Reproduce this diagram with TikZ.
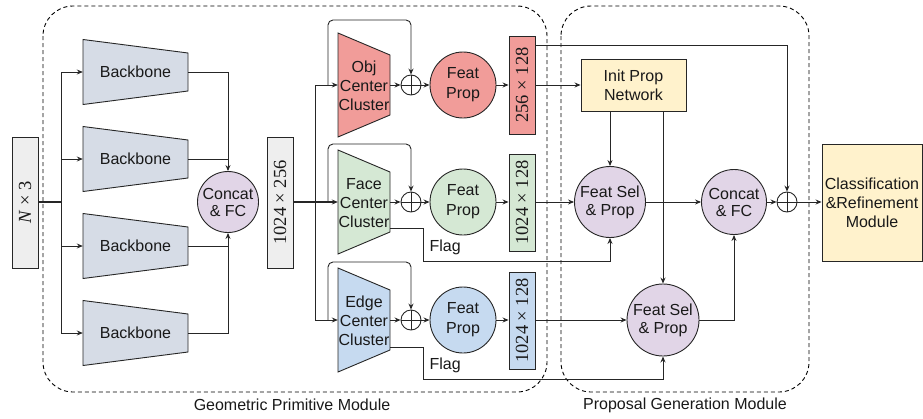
\documentclass[tikz,border=0pt]{standalone}
\usepackage{fontspec}
\setmainfont{Liberation Sans}
\newfontfamily\serifnum{Liberation Serif}
\usetikzlibrary{arrows.meta,calc}
\definecolor{cgray}{HTML}{EEEEEE}
\definecolor{cback}{HTML}{D6DCE6}
\definecolor{cpurple}{HTML}{E1D5E7}
\definecolor{cred}{HTML}{F19C99}
\definecolor{cgreen}{HTML}{D5E8D4}
\definecolor{cblue}{HTML}{C6DAF0}
\definecolor{cyellow}{HTML}{FFF2CC}
\definecolor{cline}{HTML}{262626}
\tikzset{
  every node/.style={font=\fontsize{16}{19}\selectfont, text=black!90},
  conn/.style={draw=cline, line width=0.9pt},
  arr/.style={conn, -{Stealth[length=6pt,width=5pt]}},
  circ/.style={circle, draw=cline, line width=0.9pt, inner sep=0pt, align=center},
  plus/.style={circle, draw=cline, line width=0.9pt, minimum size=20pt, inner sep=0pt},
  vbox/.style={draw=cline, line width=0.9pt, minimum width=26pt, inner sep=0pt},
  ghost/.style={inner sep=0pt, align=center},
  shape2d/.style={draw=cline, line width=0.9pt},
  modbox/.style={draw=black, line width=0.9pt, dash pattern=on 4pt off 3pt, rounded corners=30pt},
  rect/.style={draw=cline, line width=0.9pt, align=center, inner sep=0pt},
  numtxt/.style={rotate=90, font=\serifnum\fontsize{18.5}{20}\selectfont},
}
\begin{document}
\begin{tikzpicture}[x=1pt,y=-1pt]
\useasboundingbox (0,0) rectangle (923,418);
% module boxes
\draw[modbox] (43,6) rectangle (547,392);
\draw[modbox] (561,6) rectangle (809,392);
\node (gpm) at (292,405) {Geometric Primitive Module};
\node (pgm) at (685,405) {Proposal Generation Module};

% input
\node[vbox, fill=cgray, minimum height=131pt] (in) at (25,202.5) {};
\node[numtxt] at (in) {\textit{N} × 3};
\coordinate (trunk) at (61,202);

% backbones
\foreach \i/\cy in {1/72,2/159,3/246,4/333}{
  \node[ghost, minimum width=105pt, minimum height=65pt] (b\i) at (135.5,\cy) {};
  \draw[shape2d, fill=cback] (83,\cy-32.5) -- (188,\cy-19) -- (188,\cy+19) -- (83,\cy+32.5) -- cycle;
  \node at (b\i) {Backbone};
}
\draw[cline, line width=1.8pt] (in.east |- trunk) -- (trunk);
\draw[conn] (trunk |- b1.west) -- (trunk |- b4.west);
\foreach \i in {1,2,3,4}{ \draw[arr] (trunk |- b\i.west) -- (b\i.west); }

% concat 1
\node[circ, fill=cpurple, minimum size=61pt] (cat1) at (228,202) {Concat\\[-2pt]\& FC};
\draw[arr] (b1.east) -| (cat1.north);
\draw[conn] (b2.east) -- (cat1.north |- b2.east);
\draw[arr] (b3.east) -| (cat1.south);
\draw[conn] (b4.east) -| (cat1.south |- b3.east);

% 1024x256
\node[vbox, fill=cgray, minimum height=131pt] (f1) at (280,202.5) {};
\node[numtxt] at (f1) {1024 × 256};
\coordinate (tr2) at (315,202);
\draw[cline, line width=1.8pt] (f1.east |- tr2) -- (tr2);

% clusters
\foreach \n/\cy/\col/\txt/\lt in {o/85/cred/Obj/20, f/202/cgreen/Face/144, e/320/cblue/Edge/262}{
  \node[ghost, minimum width=52pt, minimum height=60pt] (cl\n) at (364,\cy) {};
  \draw[shape2d, fill=\col] (338,\cy-52) -- (390,\cy-30) -- (390,\cy+30) -- (338,\cy+52) -- cycle;
  \node[align=center] at (364,\cy+1) {\txt\\Center\\Cluster};
  \node[plus] (p\n) at (411,\cy) {};
  \draw[conn] (p\n.north) -- (p\n.south) (p\n.west) -- (p\n.east);
  \node[circ, fill=\col, minimum size=66pt] (fp\n) at (463,\cy) {Feat\\[1pt]Prop};
  \coordinate (lp\n) at (328,\cy);
  \draw[arr, rounded corners=5pt] (lp\n) -- (328,\lt) -- (p\n.north |- 0,\lt) -- (p\n.north);
  \draw[arr] (cl\n.east) -- (p\n.west);
  \draw[arr] (p\n.east) -- (fp\n.west);
}
\draw[conn] (tr2 |- clo.west) -- (tr2 |- cle.west);
\draw[arr] (tr2 |- clo.west) -- (clo.west);
\draw[arr, line width=1.4pt] (tr2) -- (clf.west);
\draw[arr] (tr2 |- cle.west) -- (cle.west);

% output boxes
\node[vbox, fill=cred, minimum height=98pt] (oo) at (522,85) {};
\node[numtxt] at (oo) {256 × 128};
\node[vbox, fill=cgreen, minimum height=97pt] (of) at (522,202.5) {};
\node[numtxt] at (of) {1024 × 128};
\node[vbox, fill=cblue, minimum height=97pt] (oe) at (522,320.5) {};
\node[numtxt] at (oe) {1024 × 128};
\draw[arr] (fpo.east) -- (oo.west |- fpo.east);
\draw[arr] (fpf.east) -- (of.west |- fpf.east);
\draw[arr] (fpe.east) -- (oe.west |- fpe.east);

% proposal generation
\node[rect, fill=cyellow, minimum width=105pt, minimum height=52pt] (ipn) at (633.5,85) {Init Prop\\Network};
\node[circ, fill=cpurple, minimum size=71pt] (fs1) at (610,202) {Feat Sel\\[-1pt]\& Prop};
\node[circ, fill=cpurple, minimum size=72pt] (fs2) at (663,320) {Feat Sel\\[-1pt]\& Prop};
\node[circ, fill=cpurple, minimum size=65pt] (cat2) at (734,202) {Concat\\[-2pt]\& FC};
\node[plus] (pf) at (787,202) {};
\draw[conn] (pf.north) -- (pf.south) (pf.west) -- (pf.east);
\node[rect, fill=cyellow, minimum width=100pt, minimum height=117pt] (cls) at (872,202.5) {Classification\\\&Refinement\\Module};

\draw[arr] (oo.east |- 0,45) -| (pf.north);
\draw[arr] (oo.east |- ipn.west) -- (ipn.west);
\draw[arr] (fs1.north |- ipn.south) -- (fs1.north);
\draw[arr] (fs2.north |- ipn.south) -- (fs2.north);
\draw[arr] (of.east |- fs1.west) -- (fs1.west);
\draw[arr] (fs1.east) -- (cat2.west);
\draw[arr] (oe.east |- fs2.west) -- (fs2.west);
\draw[arr] (fs2.east) -| (cat2.south);
\draw[arr] (cat2.east) -- (pf.west);
\draw[arr] (pf.east) -- (cls.west |- pf.east);

% flags
\coordinate (flf) at (390,228);
\coordinate (fle) at (390,347);
\draw[arr] (flf) -- (423,228) -- (423,261) -| (fs1.south);
\draw[arr] (fle) -- (423,347) -- (423,379) -| (fs2.south);
\node[anchor=west] (flag1) at (426,247) {Flag};
\node[anchor=west] (flag2) at (426,365) {Flag};
\end{tikzpicture}
\end{document}
